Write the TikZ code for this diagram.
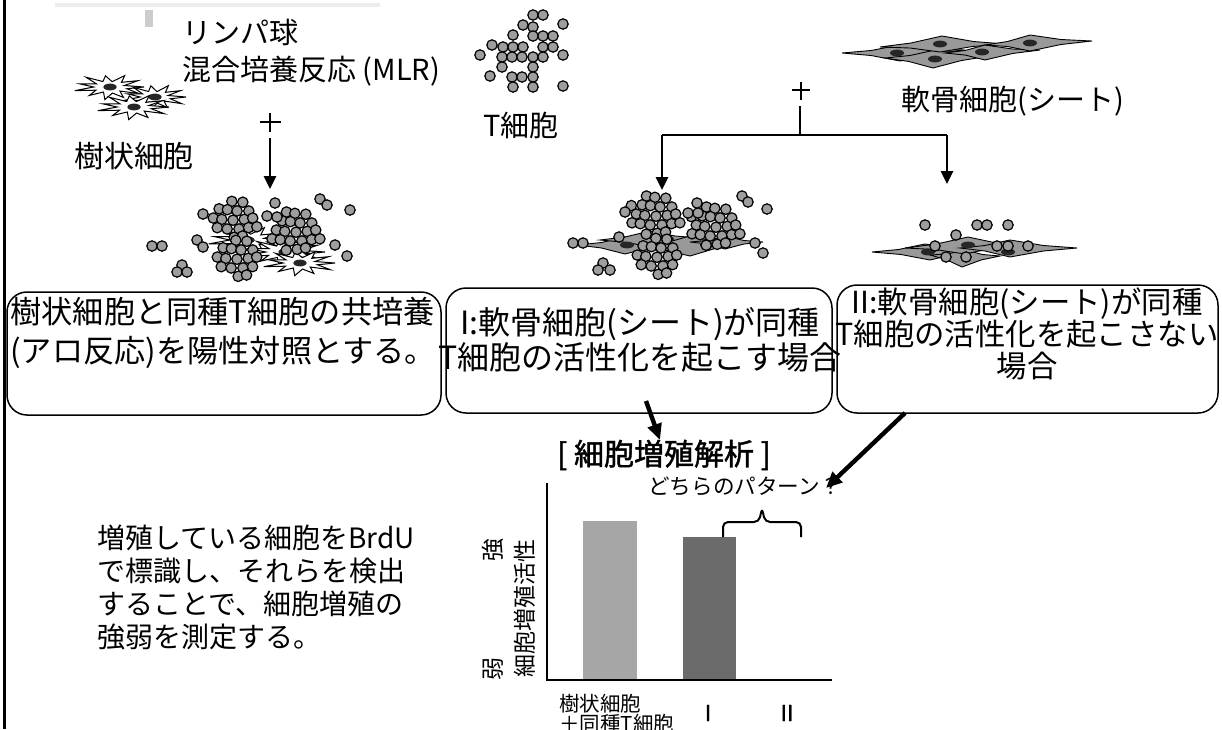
\documentclass[tikz,border=0pt]{standalone}
\usepackage{fontspec}
\setmainfont{Noto Sans CJK JP}
\newfontfamily\jpbold[FakeBold=1.4]{Noto Sans CJK JP}
\usetikzlibrary{arrows.meta,calc}

% one lymphocyte
\newcommand\lym[2]{\draw[lymph] (#1,#2) circle[radius=2.6pt];}
% a packed clump of lymphocytes inside an ellipse: centre x, centre y, half width, half height
\newcommand\clump[4]{%
  \foreach \j in {-3,...,3}{%
    \foreach \i in {-4,...,4}{%
      \pgfmathsetmacro\lcx{#1+10*\i+5*mod(abs(\j),2)+1.2*sin(97*\i+53*\j)}%
      \pgfmathsetmacro\lcy{#2+9*\j+1.2*cos(71*\i+37*\j)}%
      \pgfmathtruncatemacro\clin{(((\lcx-#1)/#3)^2+((\lcy-#2)/#4)^2)<=1}%
      \ifnum\clin=1 \lym{\lcx}{\lcy}\fi
    }%
  }%
}
% a spiky dendritic cell with its nucleus
\newcommand\dend[4]{%
  \draw[dcell] plot[samples=23,domain=0:360,variable=\t]
    ({#1+#3*(0.74+0.26*cos(11*\t))*(1+0.08*sin(5*\t))*cos(\t)},
     {#2+#4*(0.74+0.26*cos(11*\t))*(1+0.08*sin(5*\t))*sin(\t)}) -- cycle;
  \fill[black!85] (#1,#2) ellipse[x radius=3.3pt,y radius=1.7pt];
}
% a spindle-shaped chondrocyte with slightly hollow sides: left tip, top, right tip, bottom
\newcommand\spindle[4]{\draw[sheet] (#1) -- ($(#1)!0.5!(#2)+(0,1.5)$) -- (#2)
  -- ($(#2)!0.5!(#3)+(0,1.5)$) -- (#3) -- ($(#3)!0.5!(#4)+(0,-1.5)$) -- (#4)
  -- ($(#4)!0.5!(#1)+(0,-1.5)$) -- cycle;}
\newcommand\nuc[2]{\fill[black!85] (#1,#2) ellipse[x radius=3.5pt,y radius=1.7pt];}

\begin{document}
\begin{tikzpicture}[x=0.5pt,y=-0.5pt,
  lymph/.style={draw=black,line width=0.6pt,fill=black!38},
  dcell/.style={draw=black,line width=0.5pt,fill=white},
  sheet/.style={draw=black,line width=0.45pt,fill=black!40},
  flow/.style={line width=1.3pt,-{Triangle[width=6pt,length=6.5pt]}},
  bigarr/.style={line width=2.2pt,-{Triangle[width=7pt,length=8pt]}},
  plain/.style={line width=1.2pt},
  rbox/.style={draw=black,line width=0.75pt,rounded corners=10pt,inner sep=0},
  txt/.style={inner sep=0}]
\useasboundingbox (0,0) rectangle (1222,729);

% faint strip along the top and left frame line
\fill[black!7] (55,3) rectangle (380,7);
\fill[black!20] (145,10) rectangle (153,27);
\draw[line width=1.5pt] (4,0) -- (4,729);

% ---- dendritic cells
\dend{110}{87}{34}{12}
\dend{155}{97}{31}{12}
\dend{134}{107}{35}{12}
\node[txt,font=\fontsize{15}{15}\selectfont] (dclab) at (134,156) {樹状細胞};

% ---- lymphocytes
\node[txt,font=\fontsize{14.5}{18.5}\selectfont,align=left,anchor=west] (mlr) at (182,52.5) {リンパ球\\混合培養反応 (MLR)};
\foreach \p in {(533,15),(543,15),(523,25),(533,27),(563,24),(513,35),(533,36),(543,36),(553,36),
  (492,45),(480,55),(503,47),(513,47),(523,47),(543,47),(553,47),(502,57),(512,57),(522,57),
  (533,57),(543,57),(563,55),(502,67),(533,67),(490,76),(512,77),(522,77),(533,77),(513,87),
  (533,87),(563,86)}{\draw[lymph] \p circle[radius=2.6pt];}
\node[txt,font=\fontsize{14.5}{14.5}\selectfont] (tlab) at (521,125) {T細胞};

% ---- chondrocyte sheet
\spindle{842,53}{900,45}{965,50}{900,61}
\spindle{885,58}{935,50}{990,56}{933,68}
\spindle{880,47}{942,36}{1005,44}{940,52}
\spindle{945,53}{985,45}{1040,50}{985,60}
\spindle{985,45}{1030,35}{1092,41}{1030,51}
\nuc{897}{53}\nuc{935}{59}\nuc{940}{44}\nuc{982}{52}\nuc{1030}{43}
\node[txt,font=\fontsize{14.5}{14.5}\selectfont] (chlab) at (1013,101) {軟骨細胞(シート)};

% ---- left: dendritic cells + T cells
\draw[plain] (260,122) -- (281,122) (270,113) -- (270,132);
\coordinate (plA) at (270,138);
\coordinate (mixtop) at (270,189);
\draw[flow] (plA) -- (mixtop);

\dend{248}{240}{38}{13}
\dend{285}{252}{40}{13}
\dend{300}{263}{35}{12}
\clump{233}{219}{26}{20}
\clump{296}{231}{27}{21}
\foreach \p in {(203,214),(275,203),(267,216),(277,217),(320,199),(327,205),(350,210),
  (152,246),(162,246),(197,240),(203,247),(182,265),(177,272),(187,272),(335,245),(347,256)}
  {\draw[lymph] \p circle[radius=2.6pt];}
\clump{237}{258}{25}{20}

% ---- right: chondrocytes + T cells
\draw[plain] (792,90) -- (810,90) (801,82) -- (801,100);
\coordinate (plB) at (800,106);
\coordinate (split) at (800,135);
\coordinate (splitL) at (662,135);
\coordinate (splitR) at (947,135);
\coordinate (caseItop) at (662,190);
\coordinate (caseIItop) at (947,184);
\draw[plain] (plB) -- (split);
\draw[plain] (splitL) -- (splitR);
\draw[flow] (splitL) -- (caseItop);
\draw[flow] (splitR) -- (caseIItop);

% case I: T cells gather on the sheet
\spindle{578,245}{625,237}{680,243}{625,254}
\spindle{600,240}{650,231}{700,238}{655,248}
\spindle{640,247}{690,236}{740,244}{690,256}
\spindle{690,242}{725,236}{763,242}{725,249}
\nuc{627}{245}\nuc{667}{239}\nuc{707}{245}
\clump{656}{215}{28}{21}
\clump{716}{226}{28}{21}
\foreach \p in {(625,212),(573,243),(583,243),(619,237),(688,213),(698,213),(697,203),
  (742,196),(748,202),(767,209),(755,243),(763,253),(603,263),(598,270),(610,270)}
  {\draw[lymph] \p circle[radius=2.6pt];}
\clump{657}{256}{25}{20}

% case II: T cells stay scattered
\spindle{872,252}{925,244}{985,250}{930,260}
\spindle{930,255}{965,250}{1000,256}{962,267}
\spindle{905,248}{968,237}{1020,245}{965,254}
\spindle{960,248}{1010,240}{1077,248}{1010,257}
\nuc{928}{252}\nuc{968}{245}\nuc{1008}{252}
\foreach \p in {(925,225),(977,225),(987,225),(1008,225),(956,235),(935,246),(997,246),
  (1008,246),(1028,246),(946,257),(966,257)}
  {\draw[lymph] \p circle[radius=2.6pt];}

% ---- three outcome boxes
\node[rbox,minimum width=217pt,minimum height=61.5pt] (box1) at (224,353.5) {};
\node[rbox,minimum width=193pt,minimum height=62.5pt] (box2) at (639,350.5) {};
\node[rbox,minimum width=190.5pt,minimum height=64pt] (box3) at (1027.5,349) {};
\node[txt,align=left,anchor=west,font=\fontsize{15.6}{19.5}\selectfont] (t1) at (10,332.5)
  {樹状細胞と同種T細胞の共培養\\(アロ反応)を陽性対照とする。};
\node[txt,align=center,font=\fontsize{16}{15.5}\selectfont] (t2) at (640,339.5)
  {I:軟骨細胞(シート)が同種\\T細胞の活性化を起こす場合};
\node[txt,align=center,font=\fontsize{15.2}{16}\selectfont] (t3) at (1027,334)
  {II:軟骨細胞(シート)が同種\\T細胞の活性化を起こさない\\場合};

\coordinate (a1s) at (646,401);
\coordinate (a1e) at (660,440);
\coordinate (a2s) at (905,413);
\coordinate (a2e) at (826,488);
\draw[bigarr] (a1s) -- (a1e);
\draw[bigarr] (a2s) -- (a2e);

% ---- proliferation chart
\node[txt,font=\jpbold\fontsize{15}{15}\selectfont] (title) at (664,455) {[ 細胞増殖解析 ]};
\node[txt,font=\fontsize{10.8}{10.8}\selectfont] (which) at (745,486) {どちらのパターン？};
\fill[black!35] (583,521) rectangle (637,680);
\fill[black!58] (683,537) rectangle (736,680);
\draw[line width=0.8pt] (547,483) -- (547,680) -- (832,680);
\draw[line width=1pt,rounded corners=2.5pt] (723,537) -- (723,522) -- (759,522) -- (762,508)
  -- (765,522) -- (801,522) -- (801,537);
\node[txt,rotate=90,font=\fontsize{11.5}{11.5}\selectfont] (ylab) at (525,608) {細胞増殖活性};
\node[txt,rotate=90,font=\fontsize{11.5}{11.5}\selectfont] (yhi) at (493,550) {強};
\node[txt,rotate=90,font=\fontsize{11.5}{11.5}\selectfont] (ylo) at (493,669) {弱};
\node[txt,align=left,anchor=west,font=\fontsize{10.25}{10}\selectfont] (xl1) at (559,713.5)
  {樹状細胞\\＋同種T細胞};
\node[txt,font=\jpbold\fontsize{11}{11}\selectfont] (xl2) at (708,713) {I};
\node[txt,font=\jpbold\fontsize{11}{11}\selectfont] (xl3) at (787,713) {II};

% ---- method note
\node[txt,align=left,anchor=west,font=\fontsize{14}{16.5}\selectfont] (note) at (97,587)
  {増殖している細胞をBrdU\\で標識し、それらを検出\\することで、細胞増殖の\\強弱を測定する。};
\end{tikzpicture}
\end{document}
